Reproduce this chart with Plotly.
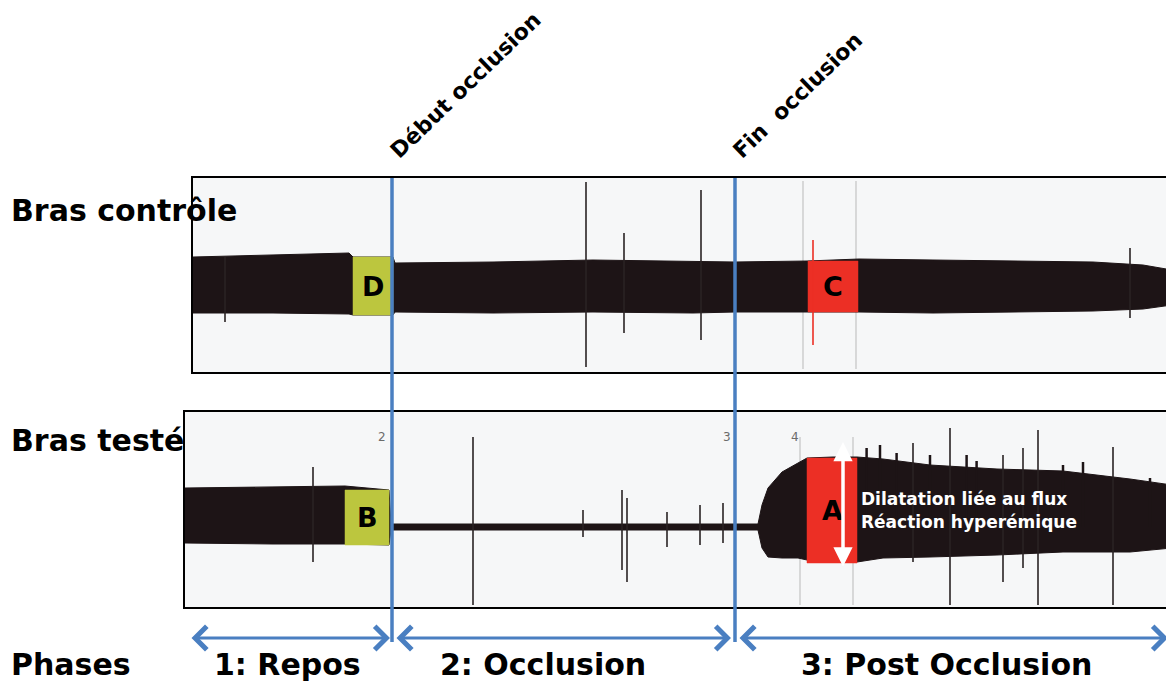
import plotly.graph_objects as go

# page is 1174x686; the default 8px body margin shifts the figure, so the figure is 8px smaller
OFF = 8
W, H = 1174 - OFF, 686 - OFF


def px(x):  # page pixel -> paper x
    return (x - OFF) / W


def py(y):  # page pixel -> paper y
    return 1 - (y - OFF) / H


# ---------------- data (time in s, amplitude in arbitrary units) ----------------
# Bras contrôle : envelope of the plethysmographic signal
ctrl_t   = [0, 40, 78, 80, 100, 101, 150, 200, 250, 271, 307, 333, 370, 400, 450, 475, 489.5]
ctrl_top = [28, 30, 32, 28, 28, 22, 23, 25, 24, 23, 24, 26, 25, 24, 23, 20, 15]
ctrl_bot = [-28, -28, -29, -30, -30, -27, -28, -27, -28, -27, -27, -27, -28, -27, -26, -24, -20]

# Bras testé : envelope of the plethysmographic signal
test_t   = [-4, 40, 76, 98, 99, 282.5, 284.5, 287.5, 294.5, 302.5, 307, 320, 332, 345, 368.5, 402, 435, 468.5, 489.5]
test_top = [39, 40, 41, 37, 3, 3, 22, 39, 55, 64, 69, 70, 70, 68, 62, 58, 56, 48, 42]
test_bot = [-16, -17, -17, -18, -3, -3, -21, -30, -31, -31, -33, -35, -35, -31, -30, -28, -25, -25, -21]

# isolated artefact spikes
ctrl_spike_t   = [16, 196.5, 215.5, 254, 310, 468.5]
ctrl_spike_top = [28, 103, 52, 95, 45, 37]
ctrl_spike_bot = [-37, -82, -48, -55, -60, -33]

test_spike_t   = [60, 140, 195, 214.5, 217, 237, 253.5, 265, 360, 378.5, 405, 415, 422.5, 460]
test_spike_top = [60, 90, 17, 37, 29, 15, 22, 24, 84, 99, 72, 79, 97, 80]
test_spike_bot = [-35, -78, -10, -43, -55, -20, -18, -16, -35, -78, -55, -41, -78, -78]

# post-occlusion beat peaks rising above the dense trace (Bras testé)
test_peak_t   = [336.8, 343.5, 351.8, 368.5, 386.8, 391.8, 435, 445, 478.5]
test_peak_top = [79, 82, 74, 72, 72, 66, 62, 65, 49]

# faint recorder paper marks
ctrl_grid_t = [305, 331.5]
ctrl_grid_top, ctrl_grid_bot = 104, -84
test_grid_t = [303.5, 330]
test_grid_top, test_grid_bot = 90, -78

# highlighted measurement windows
region_label = ["D", "C", "B", "A"]
region_panel = [1, 1, 2, 2]
region_t0    = [80, 307.5, 76, 307]
region_t1    = [100, 332.5, 98, 332]
region_top   = [28, 24, 37, 69]
region_bot   = [-30, -27, -18, -36]
region_color = ["#bcc63e", "#ec2f25", "#bcc63e", "#ec2f25"]

# events and phases
event_t     = [99.5, 271]
event_label = ["Début occlusion", "Fin  occlusion"]
phase_t0    = [-1.5, 101, 272.5]
phase_t1    = [98.5, 269, 487.5]
phase_label_t = [47, 175, 376.5]
phase_label = ["1: Repos", "2: Occlusion", "3: Post Occlusion"]

# small chart-paper numbers
mark_t = [94.5, 267, 301]
mark_y = [90, 90, 90]
mark_text = ["2", "3", "4"]

# amplitude arrow (A) and its explanation
amp_t, amp_top, amp_bot = 325, 85, -41
note_lines = ["Dilatation liée au flux", "Réaction hyperémique"]
note_y = [28, 5]

# ---------------- figure ----------------
BLUE = "#4a7fc1"
INK = "#1d1416"
FONT = "DejaVu Sans"

fig = go.Figure()


def add_band(t, top, bot, xa, ya):
    fig.add_trace(go.Scatter(
        x=list(t) + list(t)[::-1], y=list(top) + list(bot)[::-1],
        fill="toself", fillcolor=INK, mode="lines",
        line=dict(color=INK, width=1), xaxis=xa, yaxis=ya,
        hoverinfo="skip", showlegend=False))


def add_lines(ts, tops, bots, xa, ya, color, width):
    xs, ys = [], []
    for t, a, b in zip(ts, tops, bots):
        xs += [t, t, None]
        ys += [b, a, None]
    fig.add_trace(go.Scatter(x=xs, y=ys, mode="lines",
                             line=dict(color=color, width=width),
                             xaxis=xa, yaxis=ya, hoverinfo="skip", showlegend=False))


# paper marks (behind)
add_lines(ctrl_grid_t, [ctrl_grid_top] * len(ctrl_grid_t), [ctrl_grid_bot] * len(ctrl_grid_t), "x", "y", "#b9b9b9", 1)
add_lines(test_grid_t, [test_grid_top] * len(test_grid_t), [test_grid_bot] * len(test_grid_t), "x2", "y2", "#b9b9b9", 1)

# signal bands
add_band(ctrl_t, ctrl_top, ctrl_bot, "x", "y")
add_band(test_t, test_top, test_bot, "x2", "y2")
add_lines(test_peak_t, test_peak_top, [0] * len(test_peak_t), "x2", "y2", INK, 2.5)

# highlighted windows
for lab, p, t0, t1, a, b, c in zip(region_label, region_panel, region_t0, region_t1,
                                   region_top, region_bot, region_color):
    xa, ya = ("x", "y") if p == 1 else ("x2", "y2")
    fig.add_trace(go.Scatter(x=[t0, t1, t1, t0, t0], y=[b, b, a, a, b], fill="toself",
                             fillcolor=c, mode="lines", line=dict(color=c, width=0.5),
                             xaxis=xa, yaxis=ya, hoverinfo="skip", showlegend=False))


def spike_colors(ts, panel):
    out = []
    for t in ts:
        col = "#2a2224"
        for p, t0, t1, c in zip(region_panel, region_t0, region_t1, region_color):
            if p == panel and t0 <= t <= t1:
                col = c
        out.append(col)
    return out


for panel, ts, tops, bots, xa, ya in [
        (1, ctrl_spike_t, ctrl_spike_top, ctrl_spike_bot, "x", "y"),
        (2, test_spike_t, test_spike_top, test_spike_bot, "x2", "y2")]:
    cols = spike_colors(ts, panel)
    for col in sorted(set(cols)):
        sel = [i for i, c in enumerate(cols) if c == col]
        add_lines([ts[i] for i in sel], [tops[i] for i in sel], [bots[i] for i in sel],
                  xa, ya, col, 1.6)

ax_common = dict(showgrid=False, zeroline=False, showticklabels=False, ticks="",
                 showline=True, linecolor="black", linewidth=2, mirror=True,
                 fixedrange=True)

fig.update_layout(
    width=W, height=H,
    margin=dict(l=0, r=0, t=0, b=0),
    paper_bgcolor="white", plot_bgcolor="#f6f7f8",
    showlegend=False,
    xaxis=dict(domain=[px(193), px(1172)], range=[0, 489.5], anchor="y", **ax_common),
    yaxis=dict(domain=[py(372), py(178)], range=[-87, 107], anchor="x", **ax_common),
    xaxis2=dict(domain=[px(185), px(1172)], range=[-4, 489.5], anchor="y2", **ax_common),
    yaxis2=dict(domain=[py(607), py(412)], range=[-80, 115], anchor="x2", **ax_common),
)

# event lines
for t in event_t:
    fig.add_shape(type="line", xref="x", yref="paper", x0=t, x1=t,
                  y0=py(642), y1=py(178), line=dict(color=BLUE, width=3.5),
                  layer="above")

ann = []
# rotated event labels
for t, lab in zip(event_t, event_label):
    ann.append(dict(xref="x", yref="paper", x=t, y=py(166), xanchor="left", yanchor="bottom",
                    text="<b>" + lab + "</b>", textangle=-44, showarrow=False, xshift=-10,
                    font=dict(family=FONT, size=22, color="black")))

# phase arrows
for t0, t1 in zip(phase_t0, phase_t1):
    ann.append(dict(xref="x", yref="paper", x=t1, y=py(638), axref="x", ax=t0,
                    ayref="pixel", ay=0, text="", showarrow=True, arrowside="end+start",
                    arrowhead=4, startarrowhead=4, arrowsize=1.5, startarrowsize=1.5,
                    arrowwidth=3, arrowcolor=BLUE, standoff=0, startstandoff=0))

# phase labels
BIG = 30
for t, lab in zip(phase_label_t, phase_label):
    ann.append(dict(xref="x", yref="paper", x=t, y=py(664), xanchor="center", yanchor="middle",
                    text="<b>" + lab + "</b>", showarrow=False,
                    font=dict(family=FONT, size=BIG, color="black")))

for lab, yy in [("Phases", 664), ("Bras contrôle", 210), ("Bras testé", 440)]:
    ann.append(dict(xref="paper", yref="paper", x=px(9), y=py(yy), xanchor="left", yanchor="middle",
                    text="<b>" + lab + "</b>", showarrow=False,
                    font=dict(family=FONT, size=BIG, color="black")))

# region letters
for lab, p, t0, t1, a, b in zip(region_label, region_panel, region_t0, region_t1, region_top, region_bot):
    xa, ya = ("x", "y") if p == 1 else ("x2", "y2")
    ann.append(dict(xref=xa, yref=ya, x=(t0 + t1) / 2, y=(a + b) / 2, text="<b>" + lab + "</b>",
                    showarrow=False, xanchor="center", yanchor="middle",
                    font=dict(family=FONT, size=27, color="black")))

# paper numbers
for t, y, s in zip(mark_t, mark_y, mark_text):
    ann.append(dict(xref="x2", yref="y2", x=t, y=y, text=s, showarrow=False,
                    font=dict(family=FONT, size=12, color="#6b6b6b")))

# amplitude arrow + explanation
ann.append(dict(xref="x2", yref="y2", x=amp_t, y=amp_top, axref="x2", ax=amp_t, ayref="y2", ay=amp_bot,
                text="", showarrow=True, arrowside="end+start", arrowhead=2, startarrowhead=2,
                arrowsize=1.1, startarrowsize=1.1, arrowwidth=3.5, arrowcolor="white",
                standoff=0, startstandoff=0))
for line, y in zip(note_lines, note_y):
    ann.append(dict(xref="x2", yref="y2", x=amp_t + 8, y=y, xanchor="left",
                    yanchor="middle", showarrow=False, text="<b>" + line + "</b>",
                    font=dict(family=FONT, size=17, color="white")))

fig.update_layout(annotations=ann)

fig.write_html("out.html")
